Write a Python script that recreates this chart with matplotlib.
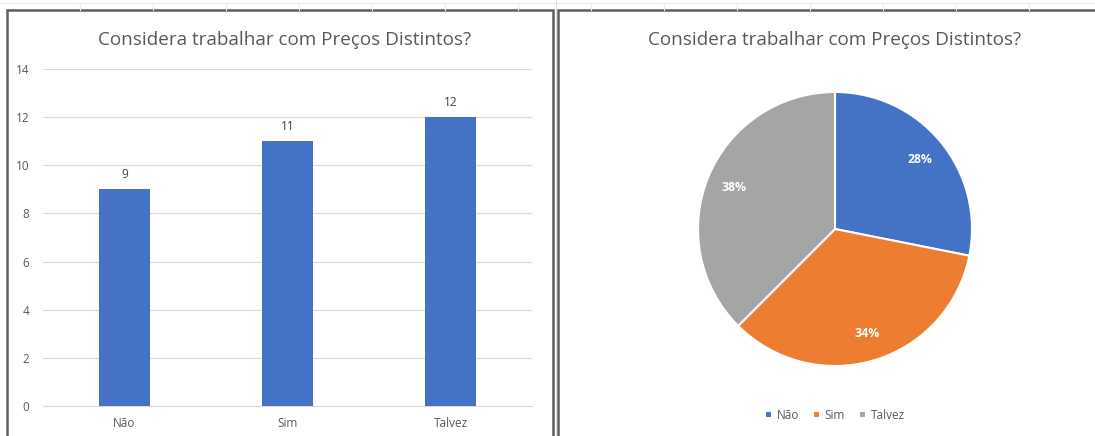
import matplotlib.pyplot as plt
from matplotlib.patches import Rectangle
from matplotlib.lines import Line2D

categorias = ["Não", "Sim", "Talvez"]
respostas = [9, 11, 12]
cores = ["#4472C4", "#ED7D31", "#A5A5A5"]
titulo = "Considera trabalhar com Preços Distintos?"

W, H = 1095, 436
fig = plt.figure(figsize=(W / 100, H / 100), dpi=100)
plt.rcParams["font.family"] = ["Open Sans", "DejaVu Sans"]
texto = "#595959"


def caixa(x0, y0, x1, y1):
    # pixel coords -> figure fraction
    return [x0 / W, 1 - y1 / H, (x1 - x0) / W, (y1 - y0) / H]


# faint spreadsheet gridlines at the top and in the gap
for x in [80, 153, 226, 299, 372, 445, 518, 591, 664, 737, 810, 883, 956, 1029]:
    fig.add_artist(Line2D([x / W, x / W], [1 - 3 / H, 1 - 10 / H], color="#ececec", lw=0.8))
fig.add_artist(Line2D([0, 1], [1 - 3 / H, 1 - 3 / H], color="#ececec", lw=0.8))
fig.add_artist(Line2D([555.5 / W, 555.5 / W], [0, 1], color="#e0e0e0", lw=0.8))

# chart borders
fig.add_artist(Rectangle((6.5 / W, -0.1), (546.5) / W, 1.1 - 10 / H, transform=fig.transFigure,
                         fill=False, edgecolor="#5f5f5f", lw=1.8))
fig.add_artist(Rectangle((558 / W, -0.1), 540 / W, 1.1 - 10 / H, transform=fig.transFigure,
                         fill=False, edgecolor="#5f5f5f", lw=1.8))

# ---- bar chart ----
ax = fig.add_axes(caixa(43, 69, 532, 406))
x = range(len(categorias))
barras = ax.bar(x, respostas, width=0.31, color=cores[0], zorder=3)
ax.set_xlim(-0.5, 2.5)
ax.set_ylim(0, 14)
ax.set_yticks(range(0, 15, 2))
ax.set_xticks(list(x))
ax.set_xticklabels(categorias)
ax.yaxis.grid(True, color="#d9d9d9", lw=0.9, zorder=0)
for s in ax.spines.values():
    s.set_visible(False)
ax.spines["bottom"].set_visible(True)
ax.spines["bottom"].set_color("#d9d9d9")
ax.tick_params(length=0, colors=texto, labelsize=8.5)
ax.tick_params(axis="y", pad=10)
ax.tick_params(axis="x", pad=8)
for b, v in zip(barras, respostas):
    ax.annotate(str(v), (b.get_x() + b.get_width() / 2, v), xytext=(0, 6),
                textcoords="offset points", ha="center", va="bottom", fontsize=8.5, color="#404040")
fig.text(285 / W, 1 - 40 / H, titulo, ha="center", va="center", fontsize=13.6, color=texto)

# ---- pie chart ----
r = 137
ax2 = fig.add_axes(caixa(835 - r, 229 - r, 835 + r, 229 + r))
fatias, _, pct = ax2.pie(respostas, colors=cores, startangle=90, counterclock=False,
                         autopct="%1.0f%%", pctdistance=0.8,
                         wedgeprops=dict(edgecolor="white", linewidth=1.5),
                         textprops=dict(color="white", fontsize=8.8, fontweight="bold"))
ax2.set_xlim(-1, 1)
ax2.set_ylim(-1, 1)
ax2.set_aspect("equal")
fig.text(835 / W, 1 - 40 / H, titulo, ha="center", va="center", fontsize=13.6, color=texto)
leg = fig.legend(fatias, categorias, loc="center", bbox_to_anchor=(835 / W, 1 - 415 / H),
                 ncol=3, frameon=False, fontsize=8.5, handlelength=0.6, handleheight=0.6,
                 handletextpad=0.4, columnspacing=1.2)
for t in leg.get_texts():
    t.set_color(texto)

fig.savefig("out.png", dpi=100)
